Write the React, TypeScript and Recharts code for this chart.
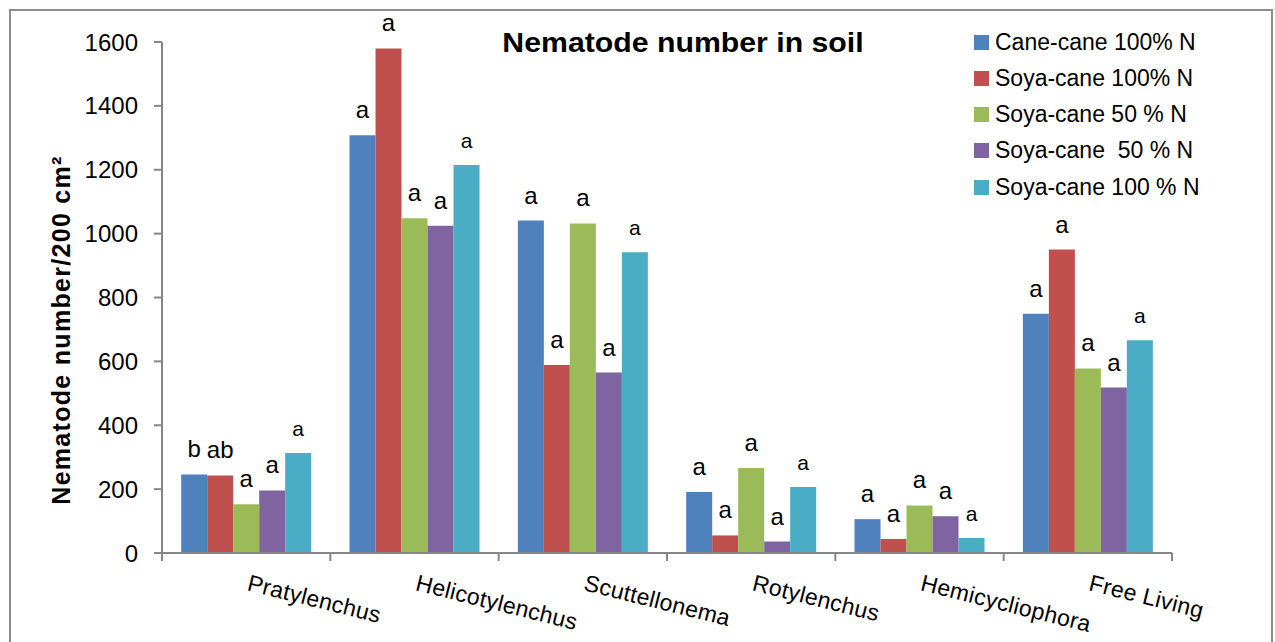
import React from 'react';
import { BarChart, Bar, XAxis, YAxis, LabelList } from 'recharts';

const CATEGORIES = ['Pratylenchus', 'Helicotylenchus', 'Scuttellonema', 'Rotylenchus', 'Hemicycliophora', 'Free Living'];

const CANE_CANE_100 = [246, 1308, 1041, 191, 106, 749];
const SOYA_CANE_100 = [243, 1580, 589, 55, 44, 950];
const SOYA_CANE_50 = [153, 1048, 1032, 266, 149, 578];
const SOYA_CANE_50_B = [196, 1025, 565, 36, 115, 518];
const SOYA_CANE_100_B = [313, 1215, 942, 207, 47, 666];

const LETTERS_CANE_CANE_100 = ['b', 'a', 'a', 'a', 'a', 'a'];
const LETTERS_SOYA_CANE_100 = ['ab', 'a', 'a', 'a', 'a', 'a'];
const LETTERS_SOYA_CANE_50 = ['a', 'a', 'a', 'a', 'a', 'a'];
const LETTERS_SOYA_CANE_50_B = ['a', 'a', 'a', 'a', 'a', 'a'];
const LETTERS_SOYA_CANE_100_B = ['a', 'a', 'a', 'a', 'a', 'a'];

const Y_TICKS = [0, 200, 400, 600, 800, 1000, 1200, 1400, 1600];

const SERIES = [
  { key: 's0', name: 'Cane-cane 100% N', color: '#4F81BD', values: CANE_CANE_100, letters: LETTERS_CANE_CANE_100, size: 24 },
  { key: 's1', name: 'Soya-cane 100% N', color: '#C0504D', values: SOYA_CANE_100, letters: LETTERS_SOYA_CANE_100, size: 24 },
  { key: 's2', name: 'Soya-cane 50 % N', color: '#9BBB59', values: SOYA_CANE_50, letters: LETTERS_SOYA_CANE_50, size: 24 },
  { key: 's3', name: 'Soya-cane  50 % N', color: '#8064A2', values: SOYA_CANE_50_B, letters: LETTERS_SOYA_CANE_50_B, size: 24 },
  { key: 's4', name: 'Soya-cane 100 % N', color: '#4BACC6', values: SOYA_CANE_100_B, letters: LETTERS_SOYA_CANE_100_B, size: 21 },
];

const data = CATEGORIES.map((name, i) => {
  const row: any = { name };
  SERIES.forEach((s) => {
    row[s.key] = s.values[i];
    row[s.key + 'l'] = s.letters[i];
  });
  return row;
});

const FONT = '"Liberation Sans", Arial, sans-serif';
const AXIS = '#868686';
const W = 1275;
const H = 642;
const Y_W = 162;
const MARGIN = { top: 42, right: 103, bottom: 0, left: 0 };
const BAND = (W - Y_W - MARGIN.right) / CATEGORIES.length;

function CategoryTick(props: any) {
  const { x, y, payload } = props;
  const half = payload && payload.offset ? payload.offset : BAND / 2;
  const isLast = payload.value === CATEGORIES[CATEGORIES.length - 1];
  const ty = y + 37;
  return (
    <g>
      <line x1={x - half} x2={x - half} y1={y} y2={y + 8} stroke={AXIS} strokeWidth={2} />
      {isLast && <line x1={x + half} x2={x + half} y1={y} y2={y + 8} stroke={AXIS} strokeWidth={2} />}
      <text
        x={x}
        y={ty}
        transform={`rotate(14, ${x}, ${ty})`}
        fontFamily={FONT}
        fontSize={23}
        letterSpacing={0.3}
        fill="#000"
        textAnchor="start"
      >
        {payload.value}
      </text>
    </g>
  );
}

export default function App() {
  return (
    <div style={{ position: 'absolute', left: 0, top: 0, width: W, height: H, background: '#fff', overflow: 'hidden', fontFamily: FONT }}>
      <div
        style={{
          position: 'absolute',
          left: 9,
          top: 9,
          width: 1264,
          height: 660,
          border: '2px solid #8c8c8c',
          boxSizing: 'border-box',
        }}
      />
      <BarChart
        width={W}
        height={H}
        data={data}
        margin={MARGIN}
        barCategoryGap="11.4%"
        barGap={0}
        style={{ position: 'absolute', left: 0, top: 0 }}
      >
        <XAxis
          dataKey="name"
          interval={0}
          height={89}
          tickLine={false}
          tickSize={0}
          tickMargin={0}
          axisLine={{ stroke: AXIS, strokeWidth: 2 }}
          tick={<CategoryTick />}
        />
        <YAxis
          width={Y_W}
          domain={[0, 1600]}
          ticks={Y_TICKS}
          interval={0}
          tickSize={8}
          tickMargin={16}
          axisLine={{ stroke: AXIS, strokeWidth: 2 }}
          tickLine={{ stroke: AXIS, strokeWidth: 2 }}
          tick={{ fill: '#000', fontSize: 24, fontFamily: FONT }}
        />
        {SERIES.map((s) => (
          <Bar key={s.key} dataKey={s.key} name={s.name} fill={s.color} isAnimationActive={false}>
            <LabelList
              dataKey={s.key + 'l'}
              position="top"
              offset={17}
              fill="#000"
              fontSize={s.size}
              fontFamily={FONT}
            />
          </Bar>
        ))}
      </BarChart>
      <div
        style={{
          position: 'absolute',
          left: 683,
          top: 28,
          transform: 'translateX(-50%) scaleX(1.12)',
          fontSize: 27,
          lineHeight: '30px',
          fontWeight: 'bold',
          whiteSpace: 'nowrap',
          color: '#000',
        }}
      >
        Nematode number in soil
      </div>
      <div
        style={{
          position: 'absolute',
          left: 61,
          top: 330,
          transform: 'translate(-50%, -50%) rotate(-90deg)',
          fontSize: 25,
          letterSpacing: 1.3,
          fontWeight: 'bold',
          whiteSpace: 'nowrap',
          color: '#000',
        }}
      >
        Nematode number/200 cm²
      </div>
      {SERIES.map((s, i) => (
        <div
          key={s.key}
          style={{
            position: 'absolute',
            left: 974,
            top: 42 + i * 36.3 - 15,
            height: 30,
            display: 'flex',
            alignItems: 'center',
            whiteSpace: 'pre',
            fontSize: 23,
            color: '#000',
          }}
        >
          <span style={{ display: 'inline-block', width: 15, height: 15, background: s.color, marginRight: 6 }} />
          {s.name}
        </div>
      ))}
    </div>
  );
}
